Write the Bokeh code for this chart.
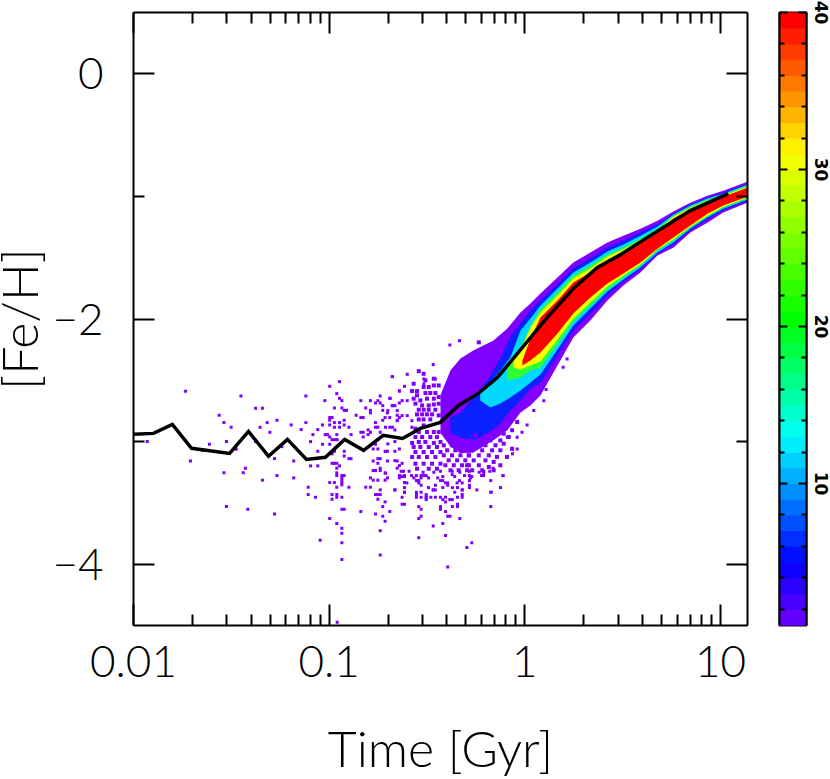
from bokeh.plotting import figure
from bokeh.layouts import row
from bokeh.embed import file_html
from bokeh.resources import INLINE
from bokeh.models import Range1d, LogAxis, LinearAxis, FixedTicker
import numpy as np

# mean relation
line_time = [0.0100,0.01265,0.0158,0.0198,0.0310,0.0387,0.0490,0.0612,0.0766,0.0957,0.120,0.150,0.189,0.237,0.293,0.370,0.458,0.579,0.724,0.875,1.07,1.30,1.56,1.77,2.35,3.08,4.38,7.01,10.97]
line_feh = [-2.941,-2.933,-2.859,-3.055,-3.096,-2.917,-3.120,-2.982,-3.145,-3.128,-2.982,-3.071,-2.949,-2.974,-2.892,-2.843,-2.705,-2.607,-2.477,-2.322,-2.151,-1.988,-1.849,-1.751,-1.580,-1.475,-1.320,-1.116,-0.978]

# density contours: log10(time), upper and lower [Fe/H]
tail = [0.248,0.335,0.422,0.504,0.591,0.678,0.759,0.846,0.933,1.014,1.137]
purple_lt = [-0.431,-0.380,-0.329,-0.263,-0.160,-0.089,-0.022,0.029,0.080,0.167] + tail
purple_up = [-2.620,-2.420,-2.322,-2.257,-2.175,-2.077,-1.947,-1.874,-1.792,-1.662,-1.540,-1.458,-1.377,-1.320,-1.263,-1.198,-1.124,-1.051,-0.994,-0.953,-0.880]
purple_lo = [-2.930,-3.040,-3.096,-3.088,-2.990,-2.908,-2.762,-2.705,-2.623,-2.379,-2.151,-2.012,-1.849,-1.727,-1.621,-1.483,-1.418,-1.295,-1.214,-1.132,-1.051]
blue_lt = [-0.380,-0.329,-0.263,-0.191,-0.125,-0.074,-0.022,0.029,0.080,0.167] + tail
blue_up = [-2.800,-2.770,-2.640,-2.501,-2.322,-2.151,-2.037,-1.931,-1.849,-1.719,-1.589,-1.507,-1.418,-1.361,-1.295,-1.230,-1.141,-1.067,-1.010,-0.969,-0.896]
blue_lo = [-2.930,-2.965,-2.990,-2.933,-2.851,-2.746,-2.664,-2.566,-2.517,-2.297,-2.094,-1.955,-1.809,-1.695,-1.597,-1.466,-1.393,-1.279,-1.189,-1.116,-1.035]
cyan_lt = [-0.228,-0.176,-0.125,-0.074,-0.022,0.029,0.080,0.167] + tail
cyan_up = [-2.607,-2.526,-2.420,-2.314,-2.094,-1.996,-1.890,-1.752,-1.621,-1.540,-1.450,-1.393,-1.320,-1.246,-1.149,-1.075,-1.018,-0.978,-0.904]
cyan_lo = [-2.664,-2.721,-2.689,-2.640,-2.583,-2.517,-2.452,-2.249,-2.053,-1.915,-1.776,-1.678,-1.580,-1.458,-1.377,-1.263,-1.173,-1.100,-1.027]
green_lt = [-0.089,-0.022,0.029,0.080,0.167] + tail
green_up = [-2.354,-2.232,-2.061,-1.923,-1.784,-1.646,-1.564,-1.475,-1.418,-1.344,-1.263,-1.157,-1.084,-1.027,-0.986,-0.912]
green_lo = [-2.501,-2.477,-2.420,-2.395,-2.208,-2.020,-1.890,-1.760,-1.662,-1.564,-1.442,-1.361,-1.255,-1.165,-1.092,-1.018]
yellow_lt = [-0.058,-0.022,0.029,0.080,0.167] + tail
yellow_up = [-2.322,-2.257,-2.069,-1.947,-1.809,-1.670,-1.589,-1.491,-1.434,-1.361,-1.279,-1.165,-1.092,-1.035,-0.994,-0.921]
yellow_lo = [-2.395,-2.412,-2.379,-2.346,-2.167,-1.996,-1.866,-1.735,-1.646,-1.556,-1.434,-1.352,-1.246,-1.157,-1.084,-1.010]
red_lt = [-0.012,0.029,0.080,0.167] + tail
red_up = [-2.338,-2.159,-1.988,-1.849,-1.703,-1.621,-1.523,-1.466,-1.385,-1.295,-1.181,-1.108,-1.051,-1.002,-0.929]
red_lo = [-2.379,-2.338,-2.273,-2.118,-1.955,-1.825,-1.711,-1.629,-1.540,-1.426,-1.336,-1.238,-1.141,-1.075,-1.002]

# single-count cells: (log10 time, [Fe/H])
specks_a = [(-1.734,-2.59),(-1.451,-2.628),(-1.119,-2.628),(-0.997,-2.549),(-0.947,-2.511),(-0.678,-2.47),(-1.376,-2.728),(-1.341,-2.728),(-1.562,-2.785),(-1.538,-2.845),(-1.501,-2.883),(-1.317,-2.845),(-1.267,-2.826),(-1.353,-2.883),(-1.303,-2.924),(-1.194,-2.864),(-1.119,-2.845),(-1.143,-2.902),(-1.058,-2.902),(-1.034,-2.864),(-0.997,-2.864),(-1.083,-2.943),(-1.93,-3.0),(-1.612,-3.022),(-1.525,-3.0),(-1.647,-3.073),(-1.095,-3.0),(-1.034,-3.022),(-1.242,-3.041),(-1.475,-3.062),(-1.376,-3.0),(-1.709,-3.158),(-1.058,-3.079),(-1.279,-3.139),(-1.181,-3.158),(-1.428,-3.217),(-1.439,-3.255),(-1.538,-3.255),(-1.095,-3.198),(-1.058,-3.198),(-1.341,-3.315),(-1.267,-3.277),(-1.181,-3.296),(-1.107,-3.372),(-1.107,-3.432),(-1.07,-3.454),(-1.525,-3.53),(-1.416,-3.552),(-1.279,-3.59),(-0.997,-3.628),(-1.046,-3.804),(-0.935,-3.962),(-0.935,-3.826),(-0.935,-3.747),(-0.935,-3.707),(-0.961,-3.668),(-0.959,-4.473),(-0.739,-3.924),(-0.739,-3.728),(-0.714,-3.649),(-0.726,-3.609),(-0.763,-3.59),(-0.838,-3.571),(-0.69,-3.571),(-0.726,-3.53),(-0.714,-3.492),(-0.935,-3.552),(-0.923,-3.552),(-0.985,-3.432),(-0.985,-3.47),(-0.961,-3.432),(-0.961,-3.454),(-0.935,-3.454),(-0.997,-3.334),(-0.973,-3.334),(-0.961,-3.372),(-0.935,-3.334),(-0.935,-3.353),(-0.899,-3.372),(-0.813,-3.372),(-0.789,-3.372),(-0.739,-3.394),(-0.664,-3.394),(-0.763,-3.432),(-0.751,-3.432),(-0.739,-3.432),(-0.751,-3.47),(-0.789,-3.296),(-0.775,-3.315),(-0.751,-3.315),(-0.714,-3.315),(-0.702,-3.296),(-0.775,-3.236),(-0.763,-3.236),(-0.739,-3.217),(-0.739,-3.236),(-0.714,-3.255),(-0.641,-3.277),(-0.641,-3.296),(-0.961,-3.255),(-0.961,-3.277),(-0.935,-3.277),(-0.923,-3.277),(-0.935,-3.296),(-0.935,-3.315),(-0.985,-3.177),(-0.973,-3.177),(-0.961,-3.177),(-0.947,-3.198),(-0.961,-3.217),(-0.899,-3.139),(-0.888,-3.139),(-0.923,-3.079),(-0.923,-3.117),(-0.973,-3.079),(-0.985,-3.1)]
specks_b = [(-1.022,-2.666),(-0.961,-2.609),(-0.947,-2.647),(-0.935,-2.666),(-0.973,-2.726),(-0.935,-2.726),(-0.923,-2.745),(-0.911,-2.745),(-0.838,-2.666),(-0.789,-2.666),(-0.813,-2.726),(-0.862,-2.785),(-0.838,-2.804),(-0.826,-2.804),(-0.789,-2.745),(-0.789,-2.766),(-0.763,-2.685),(-0.751,-2.666),(-0.739,-2.628),(-0.739,-2.685),(-0.726,-2.707),(-0.726,-2.745),(-0.69,-2.647),(-0.678,-2.707),(-0.664,-2.707),(-0.641,-2.587),(-0.641,-2.685),(-0.997,-2.804),(-0.985,-2.804),(-0.997,-2.826),(-0.973,-2.845),(-0.947,-2.845),(-0.923,-2.826),(-0.923,-2.864),(-0.973,-2.883),(-0.947,-2.883),(-0.899,-2.883),(-1.02,-2.943),(-1.008,-2.943),(-0.997,-2.962),(-0.961,-2.943),(-0.985,-2.984),(-0.973,-2.984),(-0.959,-2.984),(-0.997,-3.022),(-0.888,-2.943),(-0.838,-2.924),(-0.826,-2.924),(-0.801,-2.905),(-0.789,-2.924),(-0.801,-2.943),(-0.826,-2.962),(-0.763,-2.845),(-0.751,-2.883),(-0.763,-2.883),(-0.726,-2.826),(-0.714,-2.804),(-0.69,-2.804),(-0.702,-2.766),(-0.652,-2.785),(-0.641,-2.804),(-0.652,-2.826),(-0.739,-2.924),(-0.69,-2.883),(-0.664,-2.905),(-0.751,-2.984),(-0.763,-3.022),(-0.775,-3.06),(-0.751,-3.06),(-0.714,-3.079),(-0.702,-3.079),(-0.664,-3.079),(-0.641,-3.06),(-0.775,-3.158),(-0.751,-3.139),(-0.739,-3.139),(-0.751,-3.177),(-0.702,-3.158),(-0.652,-3.158),(-0.641,-3.196)]
specks_c = [(-0.334,-2.177),(-0.383,-2.212),(-0.468,-2.372),(-0.542,-2.429),(-0.676,-2.47),(-0.601,-2.451),(-0.516,-2.489),(-0.457,-2.489),(-0.516,-2.53),(-0.615,-2.549),(-0.641,-2.587),(-0.577,-2.587),(-0.688,-2.647),(-0.627,-2.666),(-0.601,-2.666),(-0.676,-2.707),(-0.652,-2.747),(-0.7,-2.747),(-0.627,-2.788),(-0.601,-2.788),(-0.652,-2.829),(-0.577,-2.829),(-0.712,-2.883),(-0.676,-2.883),(-0.577,-2.883),(-0.664,-3.0),(-0.7,-3.019),(-0.712,-3.081),(-0.664,-3.155),(-0.627,-3.177),(-0.652,-3.217),(-0.712,-3.258),(-0.615,-3.277),(-0.639,-3.277),(-0.615,-3.334),(-0.664,-3.394),(-0.615,-3.413),(-0.554,-3.413),(-0.53,-3.454),(-0.504,-3.454),(-0.468,-3.394),(-0.431,-3.454),(-0.382,-3.473),(-0.32,-3.394),(-0.278,-3.296),(-0.21,-3.258),(-0.172,-3.413),(-0.111,-3.277),(-0.162,-3.217),(-0.063,-3.1),(-0.063,-3.06),(-0.039,-3.06),(-0.014,-2.924),(-0.039,-2.965),(-0.089,-2.965),(0.012,-2.864),(0.109,-2.576),(0.097,-2.666),(0.046,-2.747),(0.196,-2.394),(0.216,-2.326)]
specks_d = [(-0.632,-3.242),(-0.62,-3.242),(-0.591,-3.242),(-0.52,-3.25),(-0.465,-3.25),(-0.431,-3.242),(-0.371,-3.242),(-0.332,-3.25),(-0.283,-3.242),(-0.233,-3.25),(-0.21,-3.242),(-0.179,-3.242),(-0.63,-3.285),(-0.615,-3.285),(-0.579,-3.277),(-0.554,-3.277),(-0.53,-3.277),(-0.516,-3.277),(-0.504,-3.277),(-0.492,-3.296),(-0.445,-3.296),(-0.419,-3.285),(-0.371,-3.269),(-0.358,-3.285),(-0.308,-3.277),(-0.283,-3.277),(-0.271,-3.285),(-0.221,-3.277),(-0.21,-3.277),(-0.112,-3.277),(-0.567,-3.296),(-0.542,-3.318),(-0.554,-3.318),(-0.53,-3.296),(-0.431,-3.318),(-0.419,-3.318),(-0.174,-3.318),(-0.334,-3.318),(-0.283,-3.318),(-0.603,-3.337),(-0.542,-3.337),(-0.405,-3.337),(-0.394,-3.337),(-0.346,-3.337),(-0.32,-3.337),(-0.53,-3.356),(-0.457,-3.356),(-0.394,-3.356),(-0.283,-3.356),(-0.615,-3.375),(-0.492,-3.375),(-0.419,-3.375),(-0.37,-3.375),(-0.344,-3.375),(-0.283,-3.375),(-0.124,-3.375),(-0.468,-3.394),(-0.457,-3.394),(-0.32,-3.394),(-0.245,-3.394),(-0.615,-3.413),(-0.53,-3.413),(-0.358,-3.413),(-0.174,-3.413),(-0.554,-3.432),(-0.504,-3.432),(-0.32,-3.432),(-0.627,-3.454),(-0.554,-3.454),(-0.504,-3.454),(-0.48,-3.454),(-0.457,-3.454),(-0.405,-3.454),(-0.344,-3.454),(-0.32,-3.454),(-0.504,-3.473),(-0.419,-3.473),(-0.382,-3.473),(-0.37,-3.473),(-0.405,-3.492),(-0.627,-3.511),(-0.615,-3.511),(-0.344,-3.511),(-0.542,-3.53),(-0.431,-3.53),(-0.37,-3.53),(-0.344,-3.53),(-0.174,-3.53),(-0.53,-3.552),(-0.431,-3.552),(-0.405,-3.571),(-0.53,-3.609),(-0.394,-3.609),(-0.382,-3.609),(-0.542,-3.628),(-0.332,-3.628),(-0.419,-3.668),(-0.468,-3.688),(-0.405,-3.766),(-0.542,-3.785),(-0.271,-3.826),(-0.296,-3.864),(-0.394,-4.022)]
specks_e = [(-0.542,-2.425),(-0.517,-2.447),(-0.568,-2.528),(-0.508,-2.501),(-0.465,-2.487),(-0.576,-2.588),(-0.551,-2.588),(-0.517,-2.555),(-0.491,-2.555),(-0.465,-2.542),(-0.440,-2.542),(-0.551,-2.623),(-0.508,-2.604),(-0.483,-2.604),(-0.457,-2.604),(-0.568,-2.650),(-0.534,-2.664),(-0.500,-2.650),(-0.465,-2.650),(-0.440,-2.637),(-0.559,-2.691),(-0.525,-2.705),(-0.491,-2.705),(-0.465,-2.697),(-0.440,-2.691),(-0.542,-2.740),(-0.517,-2.740),(-0.491,-2.740),(-0.457,-2.740),(-0.551,-2.778),(-0.525,-2.778),(-0.500,-2.778),(-0.474,-2.778),(-0.440,-2.786),(-0.542,-2.819),(-0.517,-2.819),(-0.483,-2.819),(-0.517,-2.868),(-0.559,-2.895),(-0.542,-2.922),(-0.500,-2.922),(-0.465,-2.922),(-0.440,-2.922),(-0.559,-2.963),(-0.525,-2.963),(-0.483,-2.963),(-0.449,-2.963),(-0.576,-3.011),(-0.542,-3.003),(-0.508,-3.003),(-0.465,-3.011),(-0.431,-3.003),(-0.568,-3.044),(-0.534,-3.044),(-0.491,-3.044),(-0.449,-3.044),(-0.559,-3.085),(-0.517,-3.085),(-0.474,-3.085),(-0.431,-3.085),(-0.576,-3.126),(-0.542,-3.126),(-0.500,-3.126),(-0.457,-3.126),(-0.559,-3.180),(-0.517,-3.180),(-0.474,-3.180),(-0.431,-3.180),(-0.551,-3.221),(-0.491,-3.221),(-0.449,-3.221)]
specks_f = [(-0.414,-3.031),(-0.372,-3.031),(-0.329,-3.031),(-0.295,-3.031),(-0.397,-3.071),(-0.355,-3.071),(-0.312,-3.071),(-0.414,-3.112),(-0.372,-3.112),(-0.329,-3.112),(-0.286,-3.112),(-0.389,-3.153),(-0.346,-3.153),(-0.304,-3.153),(-0.406,-3.193),(-0.363,-3.193),(-0.321,-3.193),(-0.286,-3.193),(-0.380,-3.234),(-0.338,-3.234),(-0.295,-3.234),(-0.252,-2.949),(-0.201,-2.949),(-0.150,-2.949),(-0.108,-2.936),(-0.065,-2.908),(-0.039,-2.841),(-0.278,-2.990),(-0.227,-2.990),(-0.176,-2.990),(-0.125,-2.990),(-0.082,-2.963),(-0.295,-3.030),(-0.244,-3.030),(-0.201,-3.030),(-0.150,-3.030),(-0.108,-3.017),(-0.269,-3.071),(-0.218,-3.071),(-0.167,-3.071),(-0.125,-3.071),(-0.065,-3.058),(-0.286,-3.112),(-0.235,-3.112),(-0.184,-3.112),(-0.142,-3.125),(-0.091,-3.125),(-0.261,-3.153),(-0.201,-3.153),(-0.159,-3.166),(-0.295,-3.193),(-0.235,-3.193),(-0.184,-3.207),(-0.125,-3.193),(-0.269,-3.234),(-0.218,-3.234),(-0.159,-3.234),(-0.235,-2.190),(-0.261,-2.300),(-0.269,-2.360)]

# axis ticks
x_major = [0.01, 0.1, 1, 10]
x_minor = [0.02,0.03,0.04,0.05,0.06,0.07,0.08,0.09,0.2,0.3,0.4,0.5,0.6,0.7,0.8,0.9,2,3,4,5,6,7,8,9]
y_major = [-4, -2, 0]
y_minor = [-3, -1]
bar_major = [10, 20, 30, 40]
bar_minor = [2,4,6,8,12,14,16,18,22,24,26,28,32,34,36,38]
bar_levels = list(range(1, 41))
bar_stops = [1, 5.5, 13.5, 21, 31.5, 40]
bar_stop_colors = [(128,0,255),(0,0,255),(0,255,255),(0,255,0),(255,255,0),(255,0,0)]

COLS = dict(purple="#7f00ff", blue="#0a20ff", cyan="#00d8ff", green="#30ff30", yellow="#f8ff00", red="#ff0000")
FONT = "Lato Light"


def axis_style(ax, labels=False, maj=21, mnr=11, size="44px"):
    ax.axis_line_width = 2
    ax.axis_line_color = "black"
    ax.major_tick_line_width = 2
    ax.minor_tick_line_width = 2
    ax.major_tick_line_color = "black"
    ax.minor_tick_line_color = "black"
    ax.major_tick_in = maj
    ax.major_tick_out = 0
    ax.minor_tick_in = mnr
    ax.minor_tick_out = 0
    ax.major_label_text_font = FONT
    ax.major_label_text_color = "black" if labels else None
    ax.major_label_text_font_size = size if labels else "1px"
    if not labels:
        ax.major_label_standoff = 0


p = figure(x_axis_type="log", x_range=Range1d(0.01, 13.75), y_range=Range1d(-4.5, 0.5),
           frame_width=614, frame_height=613, min_border_left=148, min_border_right=20,
           min_border_top=12, min_border_bottom=154, output_backend="svg", toolbar_location=None,
           background_fill_color="white", border_fill_color="white", margin=(0, 0, -30, -15))
p.grid.visible = False
p.outline_line_color = None

tx = FixedTicker(ticks=x_major, minor_ticks=x_minor)
ty = FixedTicker(ticks=y_major, minor_ticks=y_minor)
p.xaxis.ticker = tx
p.yaxis.ticker = ty
axis_style(p.xaxis[0], labels=True)
axis_style(p.yaxis[0], labels=True)
p.xaxis[0].major_label_overrides = {0.01: "0.01", 0.1: "0.1", 1: "1", 10: "10"}
p.yaxis[0].major_label_overrides = {-4: "\u22124", -2: "\u22122", 0: "0"}
p.xaxis[0].major_label_standoff = 20
p.yaxis[0].major_label_standoff = 30
for ax, text, standoff in [(p.xaxis[0], "Time [Gyr]", 38), (p.yaxis[0], "[Fe/H]", 0)]:
    ax.axis_label = text
    ax.axis_label_text_font = FONT
    ax.axis_label_text_font_style = "normal"
    ax.axis_label_text_font_size = "50px"
    ax.axis_label_text_color = "black"
    ax.axis_label_standoff = standoff

top = LogAxis(ticker=tx)
axis_style(top)
p.add_layout(top, "above")
right = LinearAxis(ticker=ty)
axis_style(right)
p.add_layout(right, "right")

for name, lt, up, lo in [("purple", purple_lt, purple_up, purple_lo), ("blue", blue_lt, blue_up, blue_lo),
                         ("cyan", cyan_lt, cyan_up, cyan_lo), ("green", green_lt, green_up, green_lo),
                         ("yellow", yellow_lt, yellow_up, yellow_lo), ("red", red_lt, red_up, red_lo)]:
    p.varea(x=[10 ** v for v in lt], y1=up, y2=lo, fill_color=COLS[name])

specks = specks_a + specks_b + specks_c + specks_d
p.scatter([10 ** s[0] for s in specks], [s[1] for s in specks], marker="square", size=3,
          fill_color=COLS["purple"], line_color=None)
dense = specks_e + specks_f
p.scatter([10 ** s[0] for s in dense], [s[1] for s in dense], marker="square", size=4,
          fill_color=COLS["purple"], line_color=None)
p.line(line_time, line_feh, line_color="black", line_width=3.5, line_join="miter")

# colour bar
b = figure(x_range=Range1d(0, 1), y_range=Range1d(0.96, 40), frame_width=27, frame_height=613,
           min_border_left=12, min_border_right=24, min_border_top=12, min_border_bottom=154,
           output_backend="svg", toolbar_location=None, background_fill_color="white", border_fill_color="white")
b.grid.visible = False
b.outline_line_color = "black"
b.outline_line_width = 2
b.xaxis.visible = False
tb = FixedTicker(ticks=bar_major, minor_ticks=bar_minor)
b.yaxis.ticker = tb
axis_style(b.yaxis[0], maj=8, mnr=5)
rb = LinearAxis(ticker=tb)
axis_style(rb, labels=True, maj=8, mnr=5, size="17px")
rb.major_label_text_font = "DejaVu Sans"
rb.major_label_text_font_style = "bold"
rb.major_label_orientation = "vertical"
rb.major_label_standoff = 8
b.add_layout(rb, "right")

channels = [np.interp(bar_levels, bar_stops, [c[i] for c in bar_stop_colors]) for i in range(3)]
palette = ["#%02x%02x%02x" % (int(r), int(g), int(bl)) for r, g, bl in zip(*channels)]
b.quad(left=0, right=1, bottom=[v - 1 for v in bar_levels], top=bar_levels, fill_color=palette, line_color=palette)

layout = row(p, b, spacing=0)
open("out.html", "w").write(file_html(layout, INLINE))
